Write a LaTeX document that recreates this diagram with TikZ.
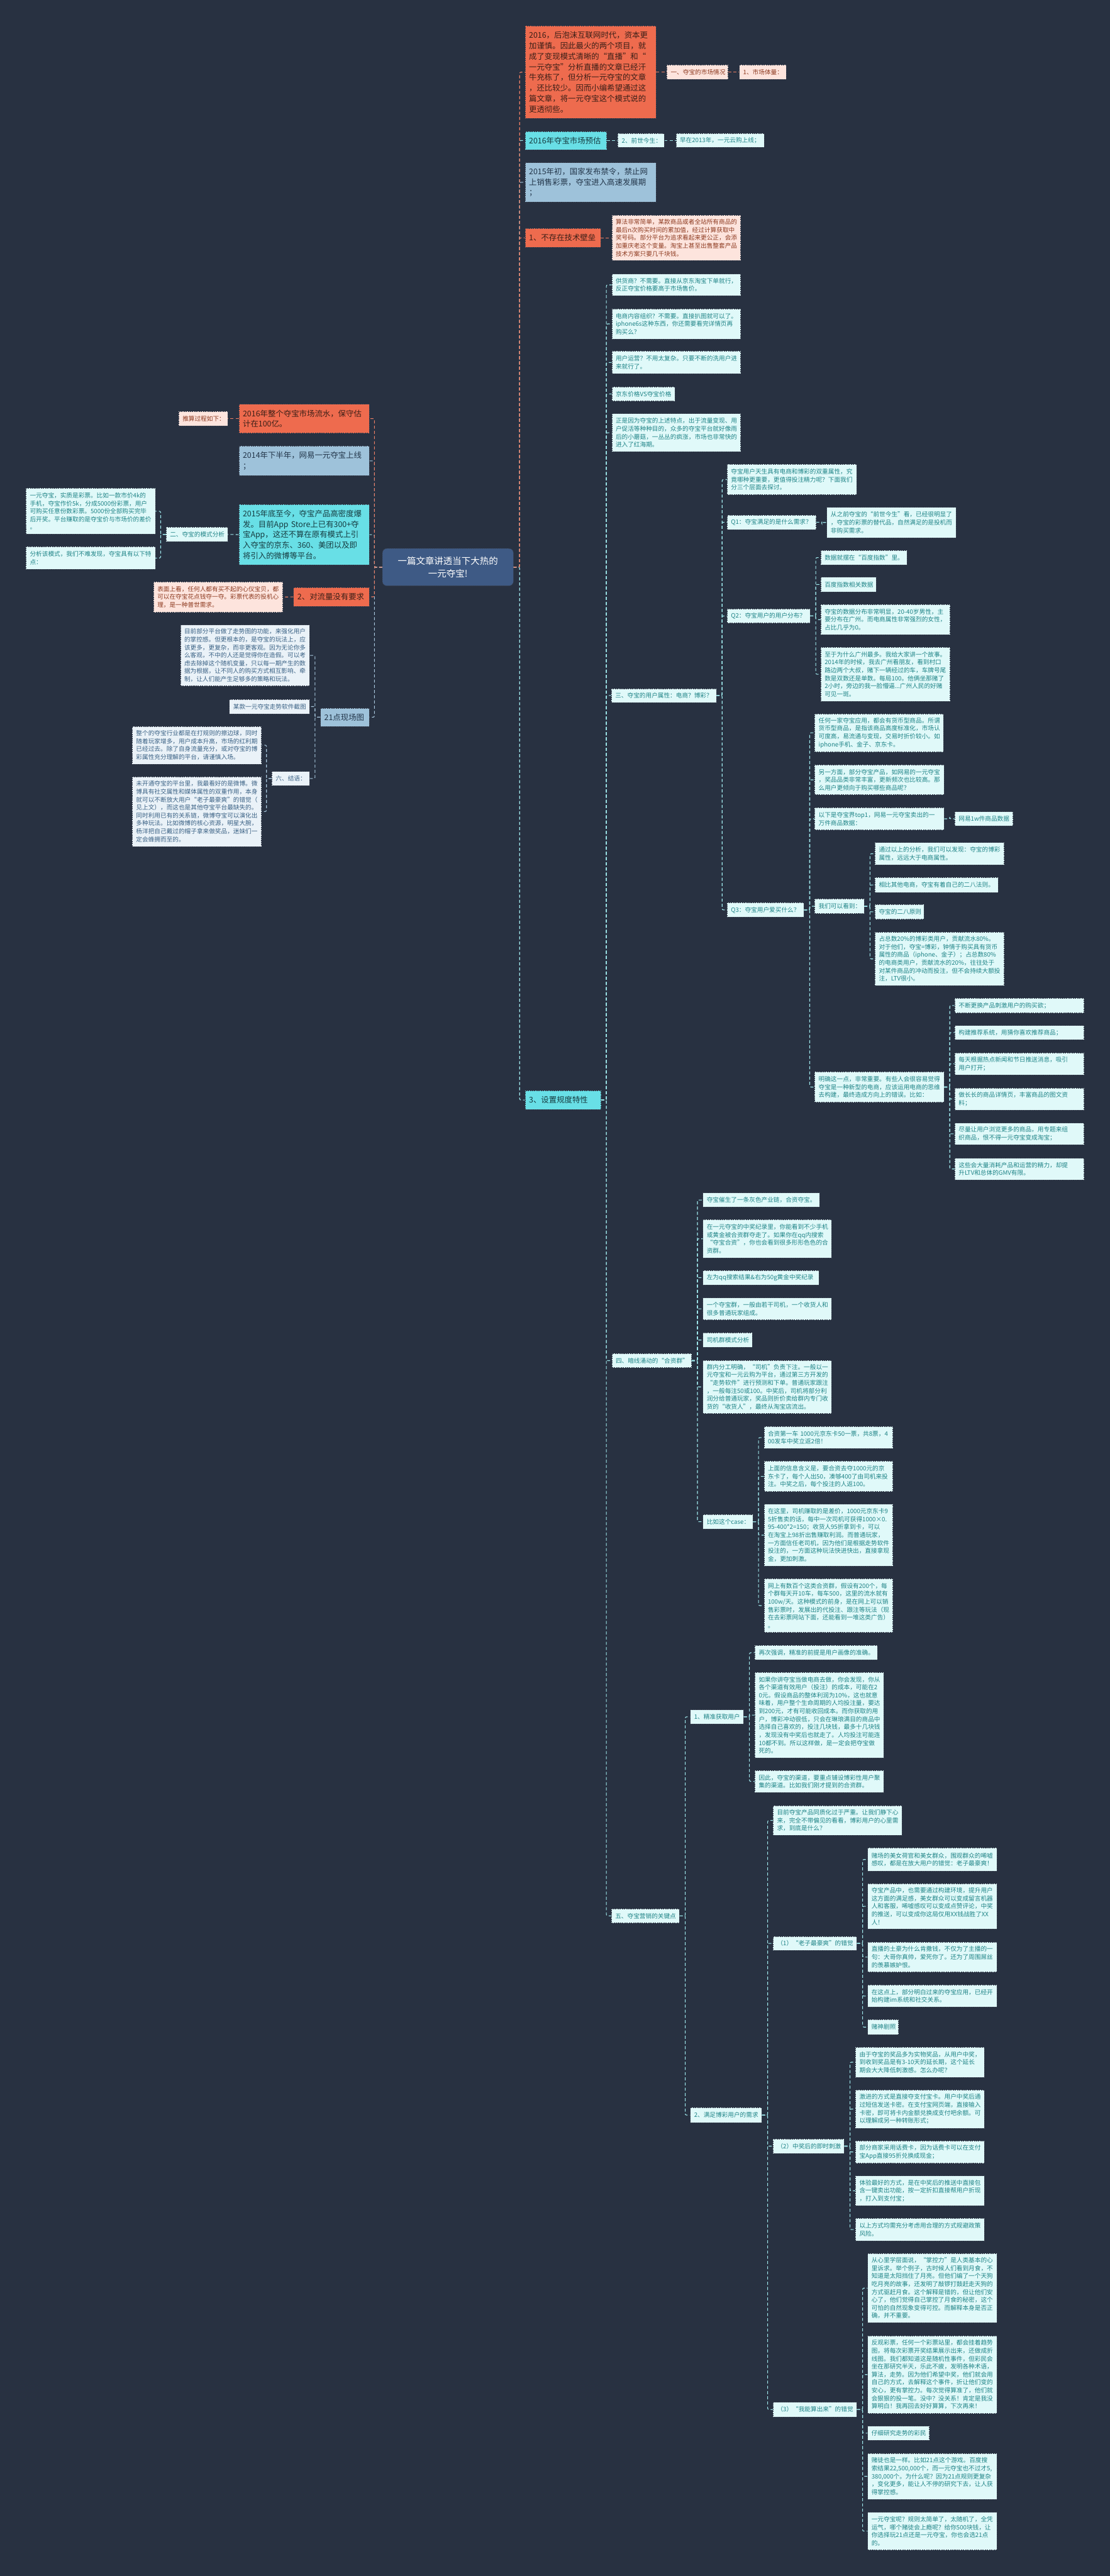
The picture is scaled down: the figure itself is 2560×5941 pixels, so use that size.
\documentclass[tikz,border=0pt]{standalone}
\usepackage{fontspec}
\setmainfont{Noto Sans CJK SC}
\definecolor{bg}{HTML}{283141}
\definecolor{redF}{HTML}{EE6B4E}
\definecolor{redT}{HTML}{3B1F17}
\definecolor{pinkF}{HTML}{FDE4DD}
\definecolor{pinkT}{HTML}{8E3A20}
\definecolor{cyanF}{HTML}{68DFE6}
\definecolor{cyanT}{HTML}{163B40}
\definecolor{lcyanF}{HTML}{E0F9F9}
\definecolor{lcyanT}{HTML}{1F8487}
\definecolor{blueF}{HTML}{9EC2DA}
\definecolor{blueT}{HTML}{23364A}
\definecolor{lblueF}{HTML}{EAF2F8}
\definecolor{lblueT}{HTML}{3B6285}
\definecolor{rootF}{HTML}{3E5A85}
\definecolor{bdr}{HTML}{3A4150}
\definecolor{redC}{HTML}{EE7F65}
\definecolor{cyanC}{HTML}{9FE8EC}
\definecolor{blueC}{HTML}{A9C8DE}
\tikzset{
  base/.style={draw=bdr, dash pattern=on 3pt off 2pt, line width=0.9pt, align=left, inner xsep=9pt, inner ysep=0pt},
  big/.style={base, font=\fontsize{18}{24.3}\selectfont},
  small/.style={base, font=\fontsize{14}{18.3}\selectfont},
  redL/.style={big, fill=redF, text=redT},
  cyanL/.style={big, fill=cyanF, text=cyanT},
  blueL/.style={big, fill=blueF, text=blueT},
  pinkS/.style={small, fill=pinkF, text=pinkT},
  cyanS/.style={small, fill=lcyanF, text=lcyanT},
  blueS/.style={small, fill=lblueF, text=lblueT},
  rootS/.style={draw=bdr, dash pattern=on 3pt off 2pt, line width=0.9pt, fill=rootF, text=white, rounded corners=10pt, align=center, font=\fontsize{21}{28}\selectfont},
  conn/.style={dash pattern=on 7pt off 5pt, line width=1.6pt, rounded corners=3pt},
}
\newcommand\bx[7]{%
  \pgfmathsetmacro\bxW{#5-#3-18}\pgfmathsetmacro\bxH{#6-#4}%
  \pgfmathsetmacro\bxX{(#3+#5)/2}\pgfmathsetmacro\bxY{(#4+#6)/2}%
  \node[#1, text width=\bxW pt, minimum height=\bxH pt] (#2) at (\bxX,\bxY) {#7};}
\newcommand\cR[3][cyanC]{\draw[conn,#1] (#2.east) -- ++(13,0) |- (#3.west);}
\newcommand\cL[3][cyanC]{\draw[conn,#1] (#2.west) -- ++(-12,0) |- (#3.east);}
\begin{document}
\begin{tikzpicture}[x=1pt,y=-1pt]
\fill[bg] (0,0) rectangle (2560,5941);
\useasboundingbox (0,0) rectangle (2560,5941);

% root
\node[rootS, minimum width=302pt, minimum height=86pt] (root) at (1033,1308) {一篇文章讲透当下大热的\\一元夺宝!};

% ---------- right level 1
\bx{redL}{R1}{1211}{60}{1513}{273}{2016，后泡沫互联网时代，资本更\\加谨慎。因此最火的两个项目，就\\成了变现模式清晰的“直播”和“\\一元夺宝”分析直播的文章已经汗\\牛充栋了，但分析一元夺宝的文章\\，还比较少。因而小编希望通过这\\篇文章，将一元夺宝这个模式说的\\更透彻些。}
\bx{cyanL}{C1}{1211}{303}{1399}{345}{2016年夺宝市场预估}
\bx{blueL}{B1}{1211}{375}{1513}{466}{2015年初，国家发布禁令，禁止网\\上销售彩票，夺宝进入高速发展期\\；}
\bx{redL}{R2}{1211}{527}{1385}{570}{1、不存在技术壁垒}
\bx{cyanL}{C3}{1211}{2515}{1386}{2559}{3、设置规度特性}

\bx{pinkS}{pa}{1538}{150}{1679}{183}{一、夺宝的市场情况}
\bx{pinkS}{pb}{1705}{150}{1813}{183}{1、市场体量：}
\bx{cyanS}{ca}{1425}{308}{1532}{340}{2、前世今生：}
\bx{cyanS}{cb}{1559}{308}{1762}{340}{早在2013年，一元云购上线；}
\bx{pinkS}{pc}{1411}{496}{1708}{601}{算法非常简单，某款商品或者全站所有商品的\\最后n次购买时间的累加值，经过计算获取中\\奖号码。部分平台为追求看起来更公正，会添\\加重庆老这个变量。淘宝上甚至出售整套产品\\技术方案只要几千块钱。}

% children of C3
\bx{cyanS}{c1}{1411}{632}{1708}{682}{供货商？不需要。直接从京东淘宝下单就行，\\反正夺宝价格要高于市场售价。}
\bx{cyanS}{c2}{1411}{712}{1708}{782}{电商内容组织？不需要。直接扒图就可以了。\\iphone6s这种东西，你还需要看完详情页再\\购买么？}
\bx{cyanS}{c3}{1411}{810}{1708}{862}{用户运营？不用太复杂。只要不断的洗用户进\\来就行了。}
\bx{cyanS}{c4}{1411}{892}{1557}{925}{京东价格VS夺宝价格}
\bx{cyanS}{c5}{1411}{954}{1708}{1042}{正是因为夺宝的上述特点，出于流量变现、用\\户促活等种种目的，众多的夺宝平台就好像雨\\后的小蘑菇，一丛丛的疯涨，市场也非常快的\\进入了红海期。}
\bx{cyanS}{c6}{1410}{1588}{1652}{1620}{三、夺宝的用户属性：电商？博彩？}
\bx{cyanS}{c7}{1411}{3122}{1595}{3154}{四、暗线涌动的“合资群”}
\bx{cyanS}{c8}{1410}{4402}{1567}{4435}{五、夺宝营销的关键点}

% section three
\bx{cyanS}{s1}{1677}{1071}{1976}{1141}{夺宝用户天生具有电商和博彩的双重属性，究\\竟哪种更重要，更值得投注精力呢？下面我们\\分三个层面去探讨。}
\bx{cyanS}{s2}{1677}{1188}{1882}{1221}{Q1：夺宝满足的是什么需求？}
\bx{cyanS}{s3}{1677}{1404}{1868}{1437}{Q2：夺宝用户的用户分布？}
\bx{cyanS}{s4}{1677}{2082}{1854}{2115}{Q3：夺宝用户爱买什么？}
\bx{cyanS}{q1a}{1907}{1170}{2205}{1240}{从之前夺宝的“前世今生”看，已经很明显了\\，夺宝的彩票的替代品，自然满足的是投机而\\非购买需求。}
\bx{cyanS}{q2a}{1893}{1269}{2092}{1303}{数据就摆在“百度指数”里。}
\bx{cyanS}{q2b}{1893}{1331}{2021}{1365}{百度指数相关数据}
\bx{cyanS}{q2c}{1893}{1394}{2191}{1464}{夺宝的数据分布非常明显，20-40岁男性，主\\要分布在广州。而电商属性非常强烈的女性，\\占比几乎为0。}
\bx{cyanS}{q2d}{1893}{1493}{2191}{1617}{至于为什么广州最多。我给大家讲一个故事。\\2014年的时候，我去广州看朋友，看到村口\\路边两个大叔，赌下一辆经过的车，车牌号尾\\数是双数还是单数。每局100。他俩坐那赌了\\2小时，旁边的我一脸懵逼...广州人民的好赌\\可见一斑。}
\bx{cyanS}{q3a}{1879}{1646}{2176}{1734}{任何一家夺宝应用，都会有货币型商品。所谓\\货币型商品，是指该商品高度标准化，市场认\\可度高，易流通与变现，交易时折价较小。如\\iphone手机、金子、京东卡。}
\bx{cyanS}{q3b}{1879}{1764}{2177}{1833}{另一方面，部分夺宝产品，如网易的一元夺宝\\，奖品品类非常丰富，更新频次也比较高。那\\么用户更倾向于购买哪些商品呢？}
\bx{cyanS}{q3c}{1879}{1863}{2177}{1914}{以下是夺宝界top1，网易一元夺宝卖出的一\\万件商品数据：}
\bx{cyanS}{q3c1}{2202}{1872}{2336}{1905}{网易1w件商品数据}
\bx{cyanS}{q3d}{1879}{2073}{1993}{2107}{我们可以看到：}
\bx{cyanS}{q3d1}{2018}{1943}{2316}{1995}{通过以上的分析，我们可以发现：夺宝的博彩\\属性，远远大于电商属性。}
\bx{cyanS}{q3d2}{2018}{2024}{2302}{2058}{相比其他电商，夺宝有着自己的二八法则。}
\bx{cyanS}{q3d3}{2018}{2086}{2131}{2120}{夺宝的二八原则}
\bx{cyanS}{q3d4}{2018}{2150}{2316}{2273}{占总数20\%的博彩类用户，贡献流水80\%。\\对于他们，夺宝=博彩，钟情于购买具有货币\\属性的商品（iphone、金子）；占总数80\%\\的电商类用户，贡献流水的20\%，往往处于\\对某件商品的冲动而投注，但不会持续大额投\\注，LTV很小。}
\bx{cyanS}{q3e}{1879}{2472}{2177}{2542}{明确这一点，非常重要。有些人会很容易觉得\\夺宝是一种新型的电商，应该运用电商的思维\\去构建，最终造成方向上的错误。比如：}
\bx{cyanS}{e1}{2202}{2302}{2500}{2336}{不断更换产品刺激用户的购买欲；}
\bx{cyanS}{e2}{2202}{2365}{2500}{2398}{构建推荐系统，用猜你喜欢推荐商品；}
\bx{cyanS}{e3}{2202}{2428}{2500}{2479}{每天根据热点新闻和节日推送消息，吸引\\用户打开；}
\bx{cyanS}{e4}{2202}{2509}{2500}{2560}{做长长的商品详情页，丰富商品的图文资\\料；}
\bx{cyanS}{e5}{2202}{2590}{2500}{2640}{尽量让用户浏览更多的商品，用专题来组\\织商品，恨不得一元夺宝变成淘宝；}
\bx{cyanS}{e6}{2202}{2671}{2500}{2721}{这些会大量消耗产品和运营的精力，却提\\升LTV和总体的GMV有限。}

% section four
\bx{cyanS}{f1}{1621}{2751}{1890}{2784}{夺宝催生了一条灰色产业链，合资夺宝。}
\bx{cyanS}{f2}{1621}{2813}{1918}{2901}{在一元夺宝的中奖纪录里，你能看到不少手机\\或黄金被合资群夺走了。如果你在qq内搜索\\“夺宝合资”，你也会看到很多形形色色的合\\资群。}
\bx{cyanS}{f3}{1621}{2930}{1889}{2963}{左为qq搜索结果\&右为50g黄金中奖纪录}
\bx{cyanS}{f4}{1621}{2993}{1918}{3044}{一个夺宝群，一般由若干司机，一个收货人和\\很多普通玩家组成。}
\bx{cyanS}{f5}{1621}{3074}{1735}{3107}{司机群模式分析}
\bx{cyanS}{f6}{1621}{3137}{1918}{3260}{群内分工明确，“司机”负责下注。一般以一\\元夺宝和一元云购为平台，通过第三方开发的\\“走势软件”进行预测和下单。普通玩家跟注\\，一般每注50或100。中奖后，司机将部分利\\润分给普通玩家，奖品则折价卖给群内专门收\\货的“收货人”，最终从淘宝店流出。}
\bx{cyanS}{f7}{1621}{3493}{1736}{3526}{比如这个case：}
\bx{cyanS}{f7a}{1762}{3290}{2059}{3341}{合资第一车~1000元京东卡50一票，共8票，4\\00发车中奖立返2倍！}
\bx{cyanS}{f7b}{1762}{3370}{2059}{3440}{上面的信息含义是，要合资去夺1000元的京\\东卡了，每个人出50，凑够400了由司机来投\\注。中奖之后，每个投注的人返100。}
\bx{cyanS}{f7c}{1762}{3469}{2059}{3612}{在这里，司机赚取的是差价，1000元京东卡9\\5折售卖的话，每中一次司机可获得1000×0.\\95-400*2=150；收货人95折拿到卡，可以\\在淘宝上98折出售赚取利润。而普通玩家，\\一方面信任老司机，因为他们是根据走势软件\\投注的，一方面这种玩法快进快出，直接拿现\\金，更加刺激。}
\bx{cyanS}{f7d}{1762}{3641}{2059}{3765}{网上有数百个这类合资群，假设有200个，每\\个群每天开10车，每车500，这里的流水就有\\100w/天。这种模式的前身，是在网上可以销\\售彩票时，发展出的代投注、跟注等玩法（现\\在去彩票网站下面，还能看到一堆这类广告）\\。}

% section five
\bx{cyanS}{g1}{1592}{3943}{1715}{3976}{1、精准获取用户}
\bx{cyanS}{g1a}{1741}{3795}{2024}{3828}{再次强调，精准的前提是用户画像的准确。}
\bx{cyanS}{g1b}{1741}{3857}{2038}{4054}{如果你讲夺宝当做电商去做，你会发现，你从\\各个渠道有效用户（投注）的成本，可能在2\\0元。假设商品的整体利润为10\%，这也就意\\味着，用户整个生命周期的人均投注量，要达\\到200元，才有可能收回成本。而你获取的用\\户，博彩冲动很低，只会在琳琅满目的商品中\\选择自己喜欢的，投注几块钱，最多十几块钱\\，发现没有中奖后也就走了。人均投注可能连\\10都不到。所以这样做，是一定会把夺宝做\\死的。}
\bx{cyanS}{g1c}{1741}{4083}{2038}{4134}{因此，夺宝的渠道，要重点铺设博彩性用户聚\\集的渠道。比如我们刚才提到的合资群。}
\bx{cyanS}{g2}{1592}{4861}{1757}{4895}{2、满足博彩用户的需求}
\bx{cyanS}{g2a}{1783}{4164}{2080}{4233}{目前夺宝产品同质化过于严重。让我们静下心\\来，完全不带偏见的看看，博彩用户的心里需\\求，到底是什么？}
\bx{cyanS}{g2b}{1783}{4466}{1976}{4498}{（1）“老子最豪爽”的错觉}
\bx{cyanS}{h1}{2001}{4262}{2299}{4315}{赌场的美女荷官和美女群众，围观群众的唏嘘\\感叹，都是在放大用户的错觉：老子最豪爽！}
\bx{cyanS}{h2}{2001}{4344}{2299}{4449}{夺宝产品中，也需要通过构建环境，提升用户\\这方面的满足感，美女群众可以变成留言机器\\人和客服，唏嘘感叹可以变成点赞评论，中奖\\的推送，可以变成你这局仅用XX钱战胜了XX\\人！}
\bx{cyanS}{h3}{2001}{4479}{2299}{4548}{直播的土豪为什么肯撒钱，不仅为了主播的一\\句：大哥你真帅，爱死你了。还为了周围屌丝\\的羡慕嫉妒恨。}
\bx{cyanS}{h4}{2001}{4578}{2299}{4629}{在这点上，部分明白过来的夺宝应用，已经开\\始构建im系统和社交关系。}
\bx{cyanS}{h5}{2001}{4658}{2072}{4692}{赌神剧照}
\bx{cyanS}{g2c}{1783}{4933}{1947}{4966}{（2）中奖后的即时刺激}
\bx{cyanS}{i1}{1973}{4721}{2270}{4791}{由于夺宝的奖品多为实物奖品，从用户中奖，\\到收到奖品是有3-10天的延长期，这个延长\\期会大大降低刺激感。怎么办呢？}
\bx{cyanS}{i2}{1973}{4820}{2270}{4908}{激进的方式是直接夺支付宝卡。用户中奖后通\\过短信发送卡密。在支付宝网页端，直接输入\\卡密，即可将卡内金额兑换成支付吧余额。可\\以理解成另一种转账形式；}
\bx{cyanS}{i3}{1973}{4937}{2270}{4989}{部分商家采用话费卡，因为话费卡可以在支付\\宝App直接95折兑换成现金；}
\bx{cyanS}{i4}{1973}{5018}{2270}{5087}{体验最好的方式，是在中奖后的推送中直接包\\含一键卖出功能，按一定折扣直接帮用户折现\\，打入到支付宝；}
\bx{cyanS}{i5}{1973}{5116}{2270}{5168}{以上方式均需充分考虑用合理的方式规避政策\\风险。}
\bx{cyanS}{g2d}{1783}{5540}{1976}{5574}{（3）“我能算出来”的错觉}
\bx{cyanS}{j1}{2001}{5197}{2299}{5357}{从心里学层面说，“掌控力”是人类基本的心\\里诉求。举个例子，古时候人们看到月食，不\\知道是太阳挡住了月亮。但他们编了一个天狗\\吃月亮的故事，还发明了敲锣打鼓赶走天狗的\\方式驱赶月食。这个解释是错的，但让他们安\\心了，他们觉得自己掌控了月食的秘密，这个\\可怕的自然现象变得可控。而解释本身是否正\\确，并不重要。}
\bx{cyanS}{j2}{2001}{5387}{2299}{5566}{反观彩票，任何一个彩票站里，都会挂着趋势\\图，将每次彩票开奖结果展示出来，还做成折\\线图。我们都知道这是随机性事件，但彩民会\\坐在那研究半天，乐此不疲，发明各种术语，\\算法，走势。因为他们希望中奖，他们就会用\\自己的方式，去解释这个事件，折让他们变的\\安心，更有掌控力。每次觉得算准了，他们就\\会狠狠的投一笔。没中？没关系！肯定是我没\\算明白！我再回去好好算算，下次再来！}
\bx{cyanS}{j3}{2001}{5595}{2143}{5628}{仔细研究走势的彩民}
\bx{cyanS}{j4}{2001}{5658}{2299}{5764}{赌徒也是一样。比如21点这个游戏。百度搜\\索结果22,500,000个，而一元夺宝也不过才5,\\380,000个。为什么呢？因为21点规则更复杂\\，变化更多，能让人不停的研究下去，让人获\\得掌控感。}
\bx{cyanS}{j5}{2001}{5794}{2299}{5881}{一元夺宝呢？规则太简单了，太随机了，全凭\\运气，哪个赌徒会上瘾呢？给你500块钱，让\\你选择玩21点还是一元夺宝，你也会选21点\\的。}

% ---------- left side
\bx{redL}{lr1}{551}{932}{852}{999}{2016年整个夺宝市场流水，保守估\\计在100亿。}
\bx{pinkS}{lr1a}{412}{949}{525}{982}{推算过程如下：}
\bx{blueL}{lb1}{551}{1029}{852}{1097}{2014年下半年，网易一元夺宝上线\\；}
\bx{cyanL}{lc1}{551}{1163}{852}{1303}{2015年底至今，夺宝产品高密度爆\\发。目前App~Store上已有300+夺\\宝App，这还不算在原有模式上引\\入夺宝的京东、360、美团以及即\\将引入的微博等平台。}
\bx{cyanS}{lc1a}{383}{1216}{525}{1249}{二、夺宝的模式分析}
\bx{cyanS}{lc1a1}{60}{1126}{358}{1232}{一元夺宝，实质是彩票。比如一款市价4k的\\手机，夺宝作价5k，分成5000份彩票，用户\\可购买任意份数彩票。5000份全部购买完毕\\后开奖。平台赚取的是夺宝价与市场价的差价\\。}
\bx{cyanS}{lc1a2}{60}{1261}{358}{1313}{分析该模式，我们不难发现，夺宝具有以下特\\点：}
\bx{redL}{lr2}{677}{1355}{852}{1398}{2、对流量没有要求}
\bx{pinkS}{lr2a}{354}{1342}{652}{1412}{表面上看，任何人都有买不起的心仪宝贝，都\\可以在夺宝花点钱夺一夺。彩票代表的投机心\\理，是一种普世需求。}
\bx{blueL}{lb2}{739}{1633}{852}{1675}{21点现场图}
\bx{blueS}{lb2a}{416}{1441}{714}{1582}{目前部分平台做了走势图的功能，来强化用户\\的掌控感。但更根本的，是夺宝的玩法上，应\\该更多，更复杂，而非更客观。因为无论你多\\么客观，不中的人还是觉得你在造假。可以考\\虑去除掉这个随机变量，只以每一期产生的数\\据为根据，让不同人的购买方式相互影响、牵\\制，让人们能产生足够多的策略和玩法。}
\bx{blueS}{lb2b}{529}{1613}{714}{1646}{某款一元夺宝走势软件截图}
\bx{blueS}{lb2c}{627}{1779}{714}{1812}{六、结语：}
\bx{blueS}{lb2c1}{305}{1675}{603}{1762}{整个的夺宝行业都是在打规则的擦边球，同时\\随着玩家增多，用户成本升高，市场的红利期\\已经过去。除了自身流量充分，或对夺宝的博\\彩属性充分理解的平台，请谨慎入场。}
\bx{blueS}{lb2c2}{305}{1791}{603}{1952}{未开通夺宝的平台里，我最看好的是微博。微\\博具有社交属性和媒体属性的双重作用，本身\\就可以不断放大用户“老子最豪爽”的错觉（\\见上文），而这也是其他夺宝平台最缺失的。\\同时利用已有的关系链，微博夺宝可以演化出\\多种玩法。比如微博的核心资源，明星大腕，\\杨洋把自己戴过的帽子拿来做奖品，迷妹们一\\定会蜂拥而至的。}

% ---------- connectors
\draw[conn,cyanC] (root.east) -- ++(14,0) |- (C3.west);
\draw[conn,blueC] (root.east) -- ++(14,0) |- (B1.west);
\draw[conn,cyanC] (root.east) -- ++(14,0) |- (C1.west);
\draw[conn,redC] (root.east) -- ++(14,0) |- (R2.west);
\draw[conn,redC] (root.east) -- ++(14,0) |- (R1.west);
\draw[conn,blueC] (root.west) -- ++(-18,0) |- (lb2.east);
\draw[conn,redC] (root.west) -- ++(-18,0) |- (lr2.east);
\draw[conn,cyanC] (root.west) -- ++(-18,0) |- (lc1.east);
\draw[conn,blueC] (root.west) -- ++(-18,0) |- (lb1.east);
\draw[conn,redC] (root.west) -- ++(-18,0) |- (lr1.east);

\draw[conn,redC] (R1.east) -- (pa.west);
\draw[conn,redC] (pa.east) -- (pb.west);
\draw[conn,cyanC] (C1.east) -- (ca.west);
\draw[conn,cyanC] (ca.east) -- (cb.west);
\draw[conn,redC] (R2.east) -- (pc.west);

\foreach \c in {c1,c2,c3,c4,c5,c6,c7,c8} {\draw[conn,cyanC] (C3.east) -- ++(12,0) |- (\c.west);}
\foreach \c in {s1,s2,s3,s4} {\cR{c6}{\c}}
\cR{s2}{q1a}
\foreach \c in {q2a,q2b,q2c,q2d} {\cR{s3}{\c}}
\foreach \c in {q3a,q3b,q3c,q3d,q3e} {\cR{s4}{\c}}
\cR{q3c}{q3c1}
\foreach \c in {q3d1,q3d2,q3d3,q3d4} {\cR{q3d}{\c}}
\foreach \c in {e1,e2,e3,e4,e5,e6} {\cR{q3e}{\c}}
\foreach \c in {f1,f2,f3,f4,f5,f6,f7} {\cR{c7}{\c}}
\foreach \c in {f7a,f7b,f7c,f7d} {\cR{f7}{\c}}
\foreach \c in {g1,g2} {\cR{c8}{\c}}
\foreach \c in {g1a,g1b,g1c} {\cR{g1}{\c}}
\foreach \c in {g2a,g2b,g2c,g2d} {\cR{g2}{\c}}
\foreach \c in {h1,h2,h3,h4,h5} {\cR{g2b}{\c}}
\foreach \c in {i1,i2,i3,i4,i5} {\cR{g2c}{\c}}
\foreach \c in {j1,j2,j3,j4,j5} {\cR{g2d}{\c}}

\draw[conn,redC] (lr1.west) -- (lr1a.east);
\draw[conn,cyanC] (lc1.west) -- (lc1a.east);
\foreach \c in {lc1a1,lc1a2} {\cL{lc1a}{\c}}
\draw[conn,redC] (lr2.west) -- (lr2a.east);
\foreach \c in {lb2a,lb2b,lb2c} {\cL[blueC]{lb2}{\c}}
\foreach \c in {lb2c1,lb2c2} {\cL[blueC]{lb2c}{\c}}
\end{tikzpicture}
\end{document}
